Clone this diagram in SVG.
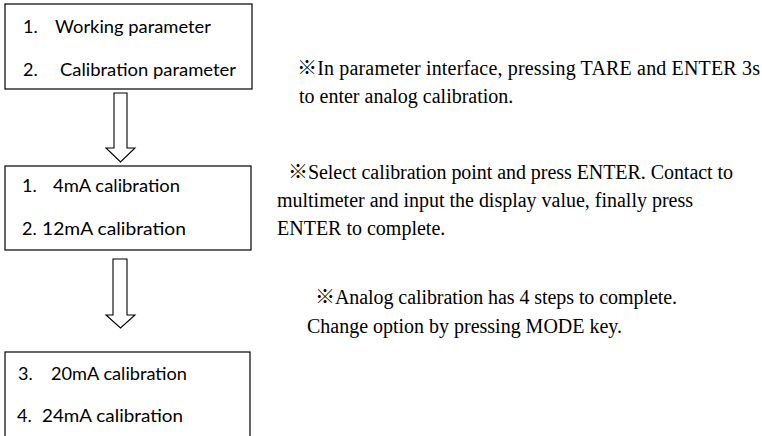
<svg xmlns="http://www.w3.org/2000/svg" width="762" height="436" viewBox="0 0 762 436">
<style>
.box{fill:#fff;stroke:#000;stroke-width:1.2}
.arr{fill:#fff;stroke:#000;stroke-width:1.1;stroke-linejoin:miter}
.bt{font-family:Lato,"Noto Sans",sans-serif;font-size:18px;fill:#000}
.nt{font-family:"Liberation Serif","Times New Roman",serif;font-size:20px;fill:#000}
.cj{font-family:"Noto Sans CJK SC",sans-serif}
</style>
<rect width="762" height="436" fill="#fff"/>
<g id="node1">
<rect class="box" x="5" y="4" width="247" height="85"/>
<text class="bt" x="23" y="33">1.</text>
<text class="bt" x="55" y="33" textLength="156" lengthAdjust="spacingAndGlyphs">Working parameter</text>
<text class="bt" x="23" y="76">2.</text>
<text class="bt" x="60" y="76" textLength="176" lengthAdjust="spacingAndGlyphs">Calibration parameter</text>
</g>
<g id="node2">
<rect class="box" x="5" y="166" width="246" height="84"/>
<text class="bt" x="22" y="192">1.</text>
<text class="bt" x="53" y="192" textLength="127" lengthAdjust="spacingAndGlyphs">4mA calibration</text>
<text class="bt" x="22" y="235">2.</text>
<text class="bt" x="42" y="235" textLength="144" lengthAdjust="spacingAndGlyphs">12mA calibration</text>
</g>
<g id="node3">
<rect class="box" x="5" y="352" width="245" height="100"/>
<text class="bt" x="18" y="380">3.</text>
<text class="bt" x="51" y="380" textLength="136" lengthAdjust="spacingAndGlyphs">20mA calibration</text>
<text class="bt" x="17" y="422">4.</text>
<text class="bt" x="42" y="422" textLength="141" lengthAdjust="spacingAndGlyphs">24mA calibration</text>
</g>
<g id="connectors">
<polygon class="arr" points="114,93 127,93 127,148 135,148 120.5,162 106,148 114,148"/>
<polygon class="arr" points="113,259 127,259 127,315 135,315 120.5,328 106,315 113,315"/>
</g>
<g id="notes">
<text class="nt" x="297" y="75" textLength="463" lengthAdjust="spacing"><tspan class="cj">※</tspan>In parameter interface, pressing TARE and ENTER 3s</text>
<text class="nt" x="299" y="103">to enter analog calibration.</text>
<text class="nt" x="288" y="179" textLength="445" lengthAdjust="spacing"><tspan class="cj">※</tspan>Select calibration point and press ENTER. Contact to</text>
<text class="nt" x="277" y="207" textLength="416" lengthAdjust="spacing">multimeter and input the display value, finally press</text>
<text class="nt" x="277" y="235">ENTER to complete.</text>
<text class="nt" x="315" y="304" textLength="362" lengthAdjust="spacing"><tspan class="cj">※</tspan>Analog calibration has 4 steps to complete.</text>
<text class="nt" x="307" y="333" textLength="315" lengthAdjust="spacing">Change option by pressing MODE key.</text>
</g>
</svg>
